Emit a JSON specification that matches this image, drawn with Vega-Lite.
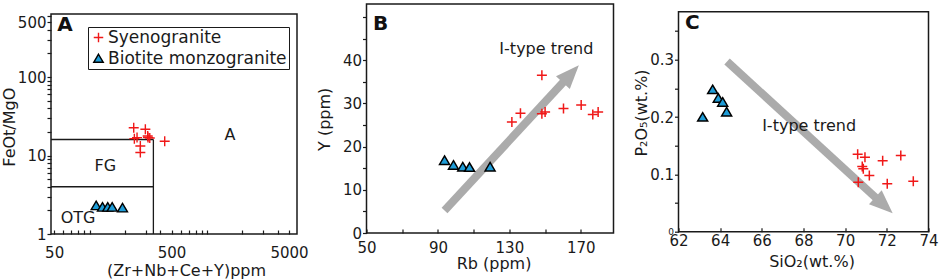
{
  "$schema": "https://vega.github.io/schema/vega-lite/v6.json",
  "padding": {"left": 0, "top": 3, "right": 2, "bottom": 0},
  "spacing": 6.5,
  "config": {
    "font": "DejaVu Sans",
    "view": {"stroke": "#1a1a1a", "strokeWidth": 1.5},
    "axis": {"domain": false, "grid": false, "labelFontSize": 15, "labelColor": "#1a1a1a", "titleFontSize": 16, "titleFontWeight": "normal", "titleColor": "#1a1a1a", "tickColor": "#1a1a1a", "tickWidth": 1.2, "labelFlush": false, "labelOverlap": false, "labelBound": false},
    "axisY": {"tickSize": 4, "labelPadding": 1},
    "axisX": {"tickSize": -4}
  },
  "resolve": {
    "scale": {"fill": "independent", "stroke": "independent", "shape": "independent"},
    "legend": {"fill": "independent", "stroke": "independent", "shape": "independent"}
  },
  "datasets": {
    "spacer": [{"k": 0}],
    "A_pts": [
      {"x": 238, "y": 22.6, "type": "Syenogranite"},
      {"x": 299, "y": 21.6, "type": "Syenogranite"},
      {"x": 241, "y": 16.4, "type": "Syenogranite"},
      {"x": 254, "y": 16.9, "type": "Syenogranite"},
      {"x": 313, "y": 17.7, "type": "Syenogranite"},
      {"x": 326, "y": 16.7, "type": "Syenogranite"},
      {"x": 315, "y": 17.0, "type": "Syenogranite"},
      {"x": 271, "y": 13.2, "type": "Syenogranite"},
      {"x": 271, "y": 10.9, "type": "Syenogranite"},
      {"x": 437, "y": 15.2, "type": "Syenogranite"},
      {"x": 114, "y": 2.3, "type": "Biotite monzogranite"},
      {"x": 129, "y": 2.2, "type": "Biotite monzogranite"},
      {"x": 143, "y": 2.2, "type": "Biotite monzogranite"},
      {"x": 156, "y": 2.2, "type": "Biotite monzogranite"},
      {"x": 191, "y": 2.15, "type": "Biotite monzogranite"}
    ],
    "A_bounds": [
      {"x": 47, "y": 16, "x2": 350, "y2": 16},
      {"x": 350, "y": 1, "x2": 350, "y2": 16},
      {"x": 47, "y": 4, "x2": 350, "y2": 4}
    ],
    "A_text": [
      {"x": 1575, "y": 18.2, "label": "A"},
      {"x": 136.6, "y": 7.31, "label": "FG"},
      {"x": 80, "y": 1.585, "label": "OTG"}
    ],
    "A_tag": [{"x": 53, "y": 382, "label": "A"}],
    "B_pts": [
      {"x": 131.4, "y": 25.7, "type": "Syenogranite"},
      {"x": 136.2, "y": 27.7, "type": "Syenogranite"},
      {"x": 148.2, "y": 36.5, "type": "Syenogranite"},
      {"x": 148.2, "y": 27.6, "type": "Syenogranite"},
      {"x": 150.0, "y": 28.0, "type": "Syenogranite"},
      {"x": 160.3, "y": 28.8, "type": "Syenogranite"},
      {"x": 170.2, "y": 29.6, "type": "Syenogranite"},
      {"x": 176.7, "y": 27.4, "type": "Syenogranite"},
      {"x": 179.7, "y": 28.0, "type": "Syenogranite"},
      {"x": 93.7, "y": 16.8, "type": "Biotite monzogranite"},
      {"x": 98.7, "y": 15.7, "type": "Biotite monzogranite"},
      {"x": 103.9, "y": 15.3, "type": "Biotite monzogranite"},
      {"x": 107.7, "y": 15.2, "type": "Biotite monzogranite"},
      {"x": 119.2, "y": 15.3, "type": "Biotite monzogranite"}
    ],
    "B_arrow": [{"x": 93.7, "y": 5.2, "x2": 161.3, "y2": 35.4}],
    "B_head": [{"x": 168.9, "y": 38.8}],
    "B_text": [{"x": 150.7, "y": 42.5, "label": "I-type trend"}],
    "B_tag": [{"x": 53.6, "y": 47.0, "label": "B"}],
    "C_pts": [
      {"x": 70.60, "y": 0.135, "type": "Syenogranite"},
      {"x": 70.95, "y": 0.130, "type": "Syenogranite"},
      {"x": 70.82, "y": 0.114, "type": "Syenogranite"},
      {"x": 70.87, "y": 0.110, "type": "Syenogranite"},
      {"x": 71.16, "y": 0.098, "type": "Syenogranite"},
      {"x": 70.63, "y": 0.0865, "type": "Syenogranite"},
      {"x": 71.80, "y": 0.124, "type": "Syenogranite"},
      {"x": 72.02, "y": 0.0837, "type": "Syenogranite"},
      {"x": 72.67, "y": 0.133, "type": "Syenogranite"},
      {"x": 73.27, "y": 0.0882, "type": "Syenogranite"},
      {"x": 63.16, "y": 0.200, "type": "Biotite monzogranite"},
      {"x": 63.64, "y": 0.248, "type": "Biotite monzogranite"},
      {"x": 63.91, "y": 0.233, "type": "Biotite monzogranite"},
      {"x": 64.12, "y": 0.226, "type": "Biotite monzogranite"},
      {"x": 64.31, "y": 0.209, "type": "Biotite monzogranite"}
    ],
    "C_arrow": [{"x": 64.33, "y": 0.297, "x2": 71.57, "y2": 0.056}],
    "C_head": [{"x": 72.28, "y": 0.0324}],
    "C_text": [{"x": 68.27, "y": 0.185, "label": "I-type trend"}],
    "C_tag": [{"x": 62.31, "y": 0.354, "label": "C"}]
  },
  "hconcat": [
    {
      "spacing": 3,
      "resolve": {
        "scale": {"fill": "independent", "stroke": "independent", "shape": "independent"},
        "legend": {"fill": "independent", "stroke": "independent", "shape": "independent"}
      },
      "vconcat": [
        {
          "width": 246,
          "height": 1,
          "view": {"stroke": null},
          "data": {"name": "spacer"},
          "mark": {"type": "point", "size": 1, "opacity": 0}
        },
        {
          "width": 246,
          "height": 220,
          "encoding": {
            "x": {"field": "x", "type": "quantitative",
              "scale": {"type": "log", "domain": [47, 5850], "nice": false},
              "axis": {"title": "(Zr+Nb+Ce+Y)ppm",
                "values": [50, 60, 70, 80, 90, 100, 200, 300, 400, 500, 600, 700, 800, 900, 1000, 2000, 3000, 4000, 5000],
                "labelExpr": "indexof([50, 500, 5000], datum.value) >= 0 ? format(datum.value, 'd') : ''",
                "labelPadding": 15.5, "titleX": 135, "titleY": 36, "titleBaseline": "middle", "titleAlign": "center"}},
            "y": {"field": "y", "type": "quantitative",
              "scale": {"type": "log", "domain": [1, 635], "nice": false},
              "axis": {"title": "FeOt/MgO",
                "values": [1, 2, 3, 4, 5, 6, 7, 8, 9, 10, 20, 30, 40, 50, 60, 70, 80, 90, 100, 200, 300, 400, 500, 600],
                "labelExpr": "indexof([1, 10, 100, 500], datum.value) >= 0 ? format(datum.value, 'd') : ''",
                "titleX": -41.7, "titleY": 112.7, "titleAngle": -90, "titleBaseline": "middle", "titleAlign": "center"}}
          },
          "layer": [
            {
              "data": {"name": "A_bounds"},
              "mark": {"type": "rule", "color": "#1a1a1a", "strokeWidth": 1.3},
              "encoding": {"x2": {"field": "x2"}, "y2": {"field": "y2"}}
            },
            {
              "data": {"name": "A_text"},
              "mark": {"type": "text", "fontSize": 16, "color": "#1a1a1a", "align": "center", "baseline": "middle"},
              "encoding": {"text": {"field": "label"}}
            },
            {
              "data": {"name": "A_tag"},
              "mark": {"type": "text", "fontSize": 20, "fontWeight": "bold", "color": "#111", "align": "left", "baseline": "alphabetic"},
              "encoding": {"text": {"field": "label"}}
            },
            {
              "data": {"name": "A_pts"},
              "mark": {"type": "point", "size": 100, "strokeWidth": 1.4, "opacity": 1},
              "encoding": {
                "fill": {"field": "type", "type": "nominal",
                  "scale": {"domain": ["Syenogranite", "Biotite monzogranite"], "range": ["transparent", "#1e9cd7"]},
                  "legend": {"orient": "none", "legendX": 37, "legendY": 13, "title": null, "strokeColor": "#1a1a1a", "padding": 2, "symbolSize": 90, "symbolStrokeWidth": 1.4, "labelFontSize": 17, "labelOffset": 1, "rowPadding": 3, "labelColor": "#1a1a1a", "labelLimit": 400}},
                "stroke": {"field": "type", "type": "nominal",
                  "scale": {"domain": ["Syenogranite", "Biotite monzogranite"], "range": ["#f01818", "#000000"]},
                  "legend": {"orient": "none", "legendX": 37, "legendY": 13, "title": null, "strokeColor": "#1a1a1a", "padding": 2, "symbolSize": 90, "symbolStrokeWidth": 1.4, "labelFontSize": 17, "labelOffset": 1, "rowPadding": 3, "labelColor": "#1a1a1a", "labelLimit": 400}},
                "shape": {"field": "type", "type": "nominal",
                  "scale": {"domain": ["Syenogranite", "Biotite monzogranite"], "range": ["M-1,0H1M0,-1V1", "M0,-0.9L1,0.8L-1,0.8Z"]},
                  "legend": {"orient": "none", "legendX": 37, "legendY": 13, "title": null, "strokeColor": "#1a1a1a", "padding": 2, "symbolSize": 90, "symbolStrokeWidth": 1.4, "labelFontSize": 17, "labelOffset": 1, "rowPadding": 3, "labelColor": "#1a1a1a", "labelLimit": 400}}
              }
            }
          ]
        }
      ]
    },
    {
      "spacing": 17,
      "hconcat": [
        {
          "width": 247,
          "height": 229,
          "encoding": {
            "x": {"field": "x", "type": "quantitative",
              "scale": {"domain": [50, 188.3], "nice": false, "zero": false},
              "axis": {"title": "Rb (ppm)", "values": [50, 70, 90, 110, 130, 150, 170],
                "labelExpr": "(datum.value - 50) % 40 == 0 ? format(datum.value, 'd') : ''",
                "labelPadding": 11.8, "titleX": 127, "titleY": 30, "titleBaseline": "middle", "titleAlign": "center"}},
            "y": {"field": "y", "type": "quantitative",
              "scale": {"domain": [0, 53], "nice": false, "zero": false},
              "axis": {"title": "Y (ppm)", "values": [0, 5, 10, 15, 20, 25, 30, 35, 40, 45, 50],
                "labelExpr": "datum.value % 10 == 0 && datum.value <= 40 ? format(datum.value, 'd') : ''",
                "titleX": -42, "titleY": 114.8, "titleAngle": -90, "titleBaseline": "middle", "titleAlign": "center"}}
          },
          "layer": [
            {
              "data": {"name": "B_arrow"},
              "mark": {"type": "rule", "color": "#ababab", "strokeWidth": 8},
              "encoding": {"x2": {"field": "x2"}, "y2": {"field": "y2"}}
            },
            {
              "data": {"name": "B_head"},
              "mark": {"type": "point", "shape": "M0,0L0.4,1L-0.4,1Z", "size": 2209, "filled": true, "color": "#ababab", "opacity": 1, "strokeWidth": 0, "angle": 42.75}
            },
            {
              "data": {"name": "B_text"},
              "mark": {"type": "text", "fontSize": 16, "color": "#1a1a1a", "align": "center", "baseline": "middle"},
              "encoding": {"text": {"field": "label"}}
            },
            {
              "data": {"name": "B_tag"},
              "mark": {"type": "text", "fontSize": 20, "fontWeight": "bold", "color": "#111", "align": "left", "baseline": "alphabetic"},
              "encoding": {"text": {"field": "label"}}
            },
            {
              "data": {"name": "B_pts"},
              "mark": {"type": "point", "size": 100, "strokeWidth": 1.5, "opacity": 1},
              "encoding": {
                "fill": {"field": "type", "type": "nominal", "legend": null,
                  "scale": {"domain": ["Syenogranite", "Biotite monzogranite"], "range": ["transparent", "#1e9cd7"]}},
                "stroke": {"field": "type", "type": "nominal", "legend": null,
                  "scale": {"domain": ["Syenogranite", "Biotite monzogranite"], "range": ["#f01818", "#000000"]}},
                "shape": {"field": "type", "type": "nominal", "legend": null,
                  "scale": {"domain": ["Syenogranite", "Biotite monzogranite"], "range": ["M-1,0H1M0,-1V1", "M0,-0.9L1,0.8L-1,0.8Z"]}}
              }
            }
          ]
        },
        {
          "spacing": 5.7,
          "vconcat": [
            {
              "width": 250,
              "height": 1,
              "view": {"stroke": null},
              "data": {"name": "spacer"},
              "mark": {"type": "point", "size": 1, "opacity": 0}
            },
            {
              "width": 250,
              "height": 220,
              "encoding": {
                "x": {"field": "x", "type": "quantitative",
                  "scale": {"domain": [62, 74], "nice": false, "zero": false},
                  "axis": {"title": "SiO₂(wt.%)", "values": [62, 64, 66, 68, 70, 72, 74],
                    "labelExpr": "format(datum.value, 'd')",
                    "labelPadding": 5.8, "titleX": 133, "titleY": 30, "titleBaseline": "middle", "titleAlign": "center"}},
                "y": {"field": "y", "type": "quantitative",
                  "scale": {"domain": [0, 0.384], "nice": false, "zero": false},
                  "axis": {"title": "P₂O₅(wt.%)", "values": [0, 0.05, 0.1, 0.15, 0.2, 0.25, 0.3, 0.35],
                    "labelExpr": "datum.value == 0 ? '0' : (round(datum.value * 100) % 10 == 0 ? format(datum.value, '.1f') : '')",
                    "labelFontSize": {"condition": {"test": "datum.value == 0", "value": 9}, "value": 15},
                    "titleX": -37.5, "titleY": 100.8, "titleAngle": -90, "titleBaseline": "middle", "titleAlign": "center"}}
              },
              "layer": [
                {
                  "data": {"name": "C_arrow"},
                  "mark": {"type": "rule", "color": "#ababab", "strokeWidth": 8},
                  "encoding": {"x2": {"field": "x2"}, "y2": {"field": "y2"}}
                },
                {
                  "data": {"name": "C_head"},
                  "mark": {"type": "point", "shape": "M0,0L0.4,1L-0.4,1Z", "size": 2209, "filled": true, "color": "#ababab", "opacity": 1, "strokeWidth": 0, "angle": 132.5}
                },
                {
                  "data": {"name": "C_text"},
                  "mark": {"type": "text", "fontSize": 16, "color": "#1a1a1a", "align": "center", "baseline": "middle"},
                  "encoding": {"text": {"field": "label"}}
                },
                {
                  "data": {"name": "C_tag"},
                  "mark": {"type": "text", "fontSize": 20, "fontWeight": "bold", "color": "#111", "align": "left", "baseline": "alphabetic"},
                  "encoding": {"text": {"field": "label"}}
                },
                {
                  "data": {"name": "C_pts"},
                  "mark": {"type": "point", "size": 100, "strokeWidth": 1.5, "opacity": 1},
                  "encoding": {
                    "fill": {"field": "type", "type": "nominal", "legend": null,
                      "scale": {"domain": ["Syenogranite", "Biotite monzogranite"], "range": ["transparent", "#1e9cd7"]}},
                    "stroke": {"field": "type", "type": "nominal", "legend": null,
                      "scale": {"domain": ["Syenogranite", "Biotite monzogranite"], "range": ["#f01818", "#000000"]}},
                    "shape": {"field": "type", "type": "nominal", "legend": null,
                      "scale": {"domain": ["Syenogranite", "Biotite monzogranite"], "range": ["M-1,0H1M0,-1V1", "M0,-0.9L1,0.8L-1,0.8Z"]}}
                  }
                }
              ]
            }
          ]
        }
      ]
    }
  ]
}
